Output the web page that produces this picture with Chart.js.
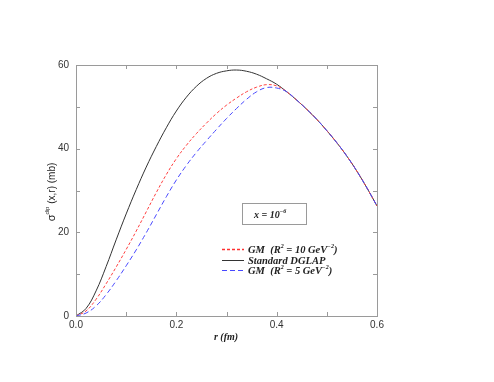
<!DOCTYPE html>
<html>
<head>
<meta charset="utf-8">
<script src="https://cdn.jsdelivr.net/npm/chart.js@4"></script>
<style>
  body { margin: 0; background: #fff; }
  #wrap { width: 494px; height: 382px; }
</style>
</head>
<body>
<div id="wrap"><canvas id="myChart" width="494" height="382"></canvas></div>
<script>
// r-värden (fm)
const rVals = [0, 0.02, 0.04, 0.06, 0.08, 0.10, 0.12, 0.14, 0.16, 0.18, 0.20, 0.22, 0.24, 0.26, 0.28, 0.30,
  0.32, 0.34, 0.36, 0.38, 0.40, 0.42, 0.44, 0.46, 0.48, 0.50, 0.52, 0.54, 0.56, 0.58, 0.60];
// Standard DGLAP
const dglap = [0, 1.8, 6, 11.8, 18.2, 24.4, 30.2, 35.6, 40.5, 45, 49, 52.3, 54.9, 56.8, 58, 58.6,
  58.8, 58.5, 57.8, 56.7, 55.4, 53.6, 51.6, 49.4, 47, 44.3, 41.4, 38.2, 34.6, 30.6, 26.3];
// GM R^2 = 10 GeV^-2
const gm10 = [0, 1.2, 4, 7.7, 11.7, 15.9, 20.3, 24.9, 29.5, 33.8, 37.6, 40.8, 43.6, 46.1, 48.4, 50.4,
  52.1, 53.6, 54.7, 55.3, 55.0, 53.6, 51.6, 49.4, 47, 44.3, 41.4, 38.2, 34.6, 30.6, 26.3];
// GM R^2 = 5 GeV^-2
const gm5 = [0, 0.7, 2.4, 5.1, 8.4, 12, 15.8, 19.9, 24.2, 28.5, 32.5, 36, 39.1, 41.9, 44.6, 47.2,
  49.6, 51.8, 53.6, 54.6, 54.5, 53.6, 51.6, 49.4, 47, 44.3, 41.4, 38.2, 34.6, 30.6, 26.3];

const xLabels = [0, 0.2, 0.4, 0.6];
const yLabels = [0, 20, 40, 60];
const xMinor = [0.1, 0.2, 0.3, 0.4, 0.5];
const yMinor = [10, 20, 30, 40, 50];

function pts(vals) {
  return rVals.map((r, i) => ({ x: r, y: vals[i] }));
}

const serif = '"Liberation Serif", "Times New Roman", serif';
const sans = '"Liberation Sans", Arial, sans-serif';

// skriver text med upphöjda delar: [[text, sup?], ...]
function richText(ctx, parts, x, y, size) {
  parts.forEach(p => {
    if (p[1]) {
      ctx.font = 'italic bold ' + Math.round(size * 0.6) + 'px ' + serif;
      ctx.fillText(p[0], x, y - size * 0.45);
    } else {
      ctx.font = 'italic bold ' + size + 'px ' + serif;
      ctx.fillText(p[0], x, y);
    }
    x += ctx.measureText(p[0]).width;
  });
}

const extras = {
  id: 'extras',
  afterDraw(chart) {
    const ctx = chart.ctx;
    const xs = chart.scales.x, ys = chart.scales.y;
    const a = chart.chartArea;
    ctx.save();
    // ram
    ctx.strokeStyle = '#9a9a9a';
    ctx.lineWidth = 1;
    ctx.strokeRect(a.left + 0.5, a.top + 0.5, a.right - a.left, a.bottom - a.top);
    // tickmarks inåt på alla sidor
    ctx.beginPath();
    xMinor.forEach(v => {
      const px = Math.round(xs.getPixelForValue(v)) + 0.5;
      ctx.moveTo(px, a.bottom); ctx.lineTo(px, a.bottom - 4);
      ctx.moveTo(px, a.top); ctx.lineTo(px, a.top + 4);
    });
    yMinor.forEach(v => {
      const py = Math.round(ys.getPixelForValue(v)) + 0.5;
      ctx.moveTo(a.left, py); ctx.lineTo(a.left + 4, py);
      ctx.moveTo(a.right, py); ctx.lineTo(a.right - 4, py);
    });
    ctx.stroke();

    // x-rubrik
    ctx.fillStyle = '#222';
    ctx.textBaseline = 'alphabetic';
    ctx.font = 'italic bold 10px ' + serif;
    ctx.textAlign = 'center';
    ctx.fillText('r (fm)', 226, 340);

    // y-rubrik (roterad)
    ctx.save();
    ctx.translate(55, 192);
    ctx.rotate(-Math.PI / 2);
    ctx.textAlign = 'left';
    const s1 = 'σ', s3 = ' (x,r) (mb)';
    ctx.font = '6px ' + sans;
    const wSup = ctx.measureText('dip').width;
    ctx.font = '11px ' + sans;
    const w1 = ctx.measureText(s1).width;
    ctx.font = '10px ' + sans;
    const total = w1 + wSup + ctx.measureText(s3).width;
    let tx = -total / 2;
    ctx.font = '11px ' + sans;
    ctx.fillText(s1, tx, 0);
    tx += w1;
    ctx.font = '6px ' + sans;
    ctx.fillText('dip', tx, -6);
    tx += wSup;
    ctx.font = '10px ' + sans;
    ctx.fillText(s3, tx, 0);
    ctx.restore();

    // ruta med x = 10^-6
    ctx.strokeStyle = '#9a9a9a';
    ctx.strokeRect(242.5, 203.5, 64, 21);
    ctx.fillStyle = '#222';
    ctx.textAlign = 'left';
    richText(ctx, [['x = 10', false], ['−6', true]], 254, 217.5, 10);

    // egen legend
    const items = [
      { color: '#ff3030', dash: [3, 2], w: 1.3, y: 249, text: [['GM  (R', false], ['2', true], [' = 10 GeV', false], ['−2', true], [')', false]] },
      { color: '#333333', dash: [], w: 1, y: 260, text: [['Standard DGLAP', false]] },
      { color: '#4848ff', dash: [5, 3], w: 1.2, y: 270, text: [['GM  (R', false], ['2', true], [' = 5 GeV', false], ['−2', true], [')', false]] }
    ];
    items.forEach(it => {
      ctx.strokeStyle = it.color;
      ctx.lineWidth = it.w;
      ctx.setLineDash(it.dash);
      ctx.beginPath();
      ctx.moveTo(222, it.y + 0.5);
      ctx.lineTo(244, it.y + 0.5);
      ctx.stroke();
      ctx.setLineDash([]);
      ctx.fillStyle = '#222';
      richText(ctx, it.text, 248, it.y + 4, 10.5);
    });
    ctx.restore();
  }
};

const ctx = document.getElementById('myChart').getContext('2d');
new Chart(ctx, {
  type: 'line',
  data: {
    datasets: [
      { label: 'GM (R2 = 5)', data: pts(gm5), borderColor: '#4848ff', borderDash: [5, 3], borderWidth: 1, order: 0 },
      { label: 'GM (R2 = 10)', data: pts(gm10), borderColor: '#ff4040', borderDash: [3, 2], borderWidth: 1, order: 1 },
      { label: 'Standard DGLAP', data: pts(dglap), borderColor: '#333333', borderWidth: 1, order: 2 }
    ]
  },
  plugins: [extras],
  options: {
    responsive: false,
    animation: false,
    elements: {
      point: { radius: 0 },
      line: { tension: 0.4, fill: false }
    },
    layout: { padding: { left: 0, top: 65, right: 117, bottom: 0 } },
    plugins: { legend: { display: false }, tooltip: { enabled: false } },
    scales: {
      x: {
        type: 'linear', min: 0, max: 0.6,
        afterFit: s => { s.height = 66; },
        afterBuildTicks: s => { s.ticks = xLabels.map(v => ({ value: v })); },
        ticks: { color: '#333', font: { family: sans, size: 10 }, padding: 3, maxRotation: 0,
          callback: v => v.toFixed(1) },
        grid: { drawOnChartArea: false, drawTicks: false },
        border: { display: false }
      },
      y: {
        min: 0, max: 60,
        afterFit: s => { s.width = 76; },
        afterBuildTicks: s => { s.ticks = yLabels.map(v => ({ value: v })); },
        ticks: { color: '#333', font: { family: sans, size: 10 }, padding: 7 },
        grid: { drawOnChartArea: false, drawTicks: false },
        border: { display: false }
      }
    }
  }
});
</script>
</body>
</html>
